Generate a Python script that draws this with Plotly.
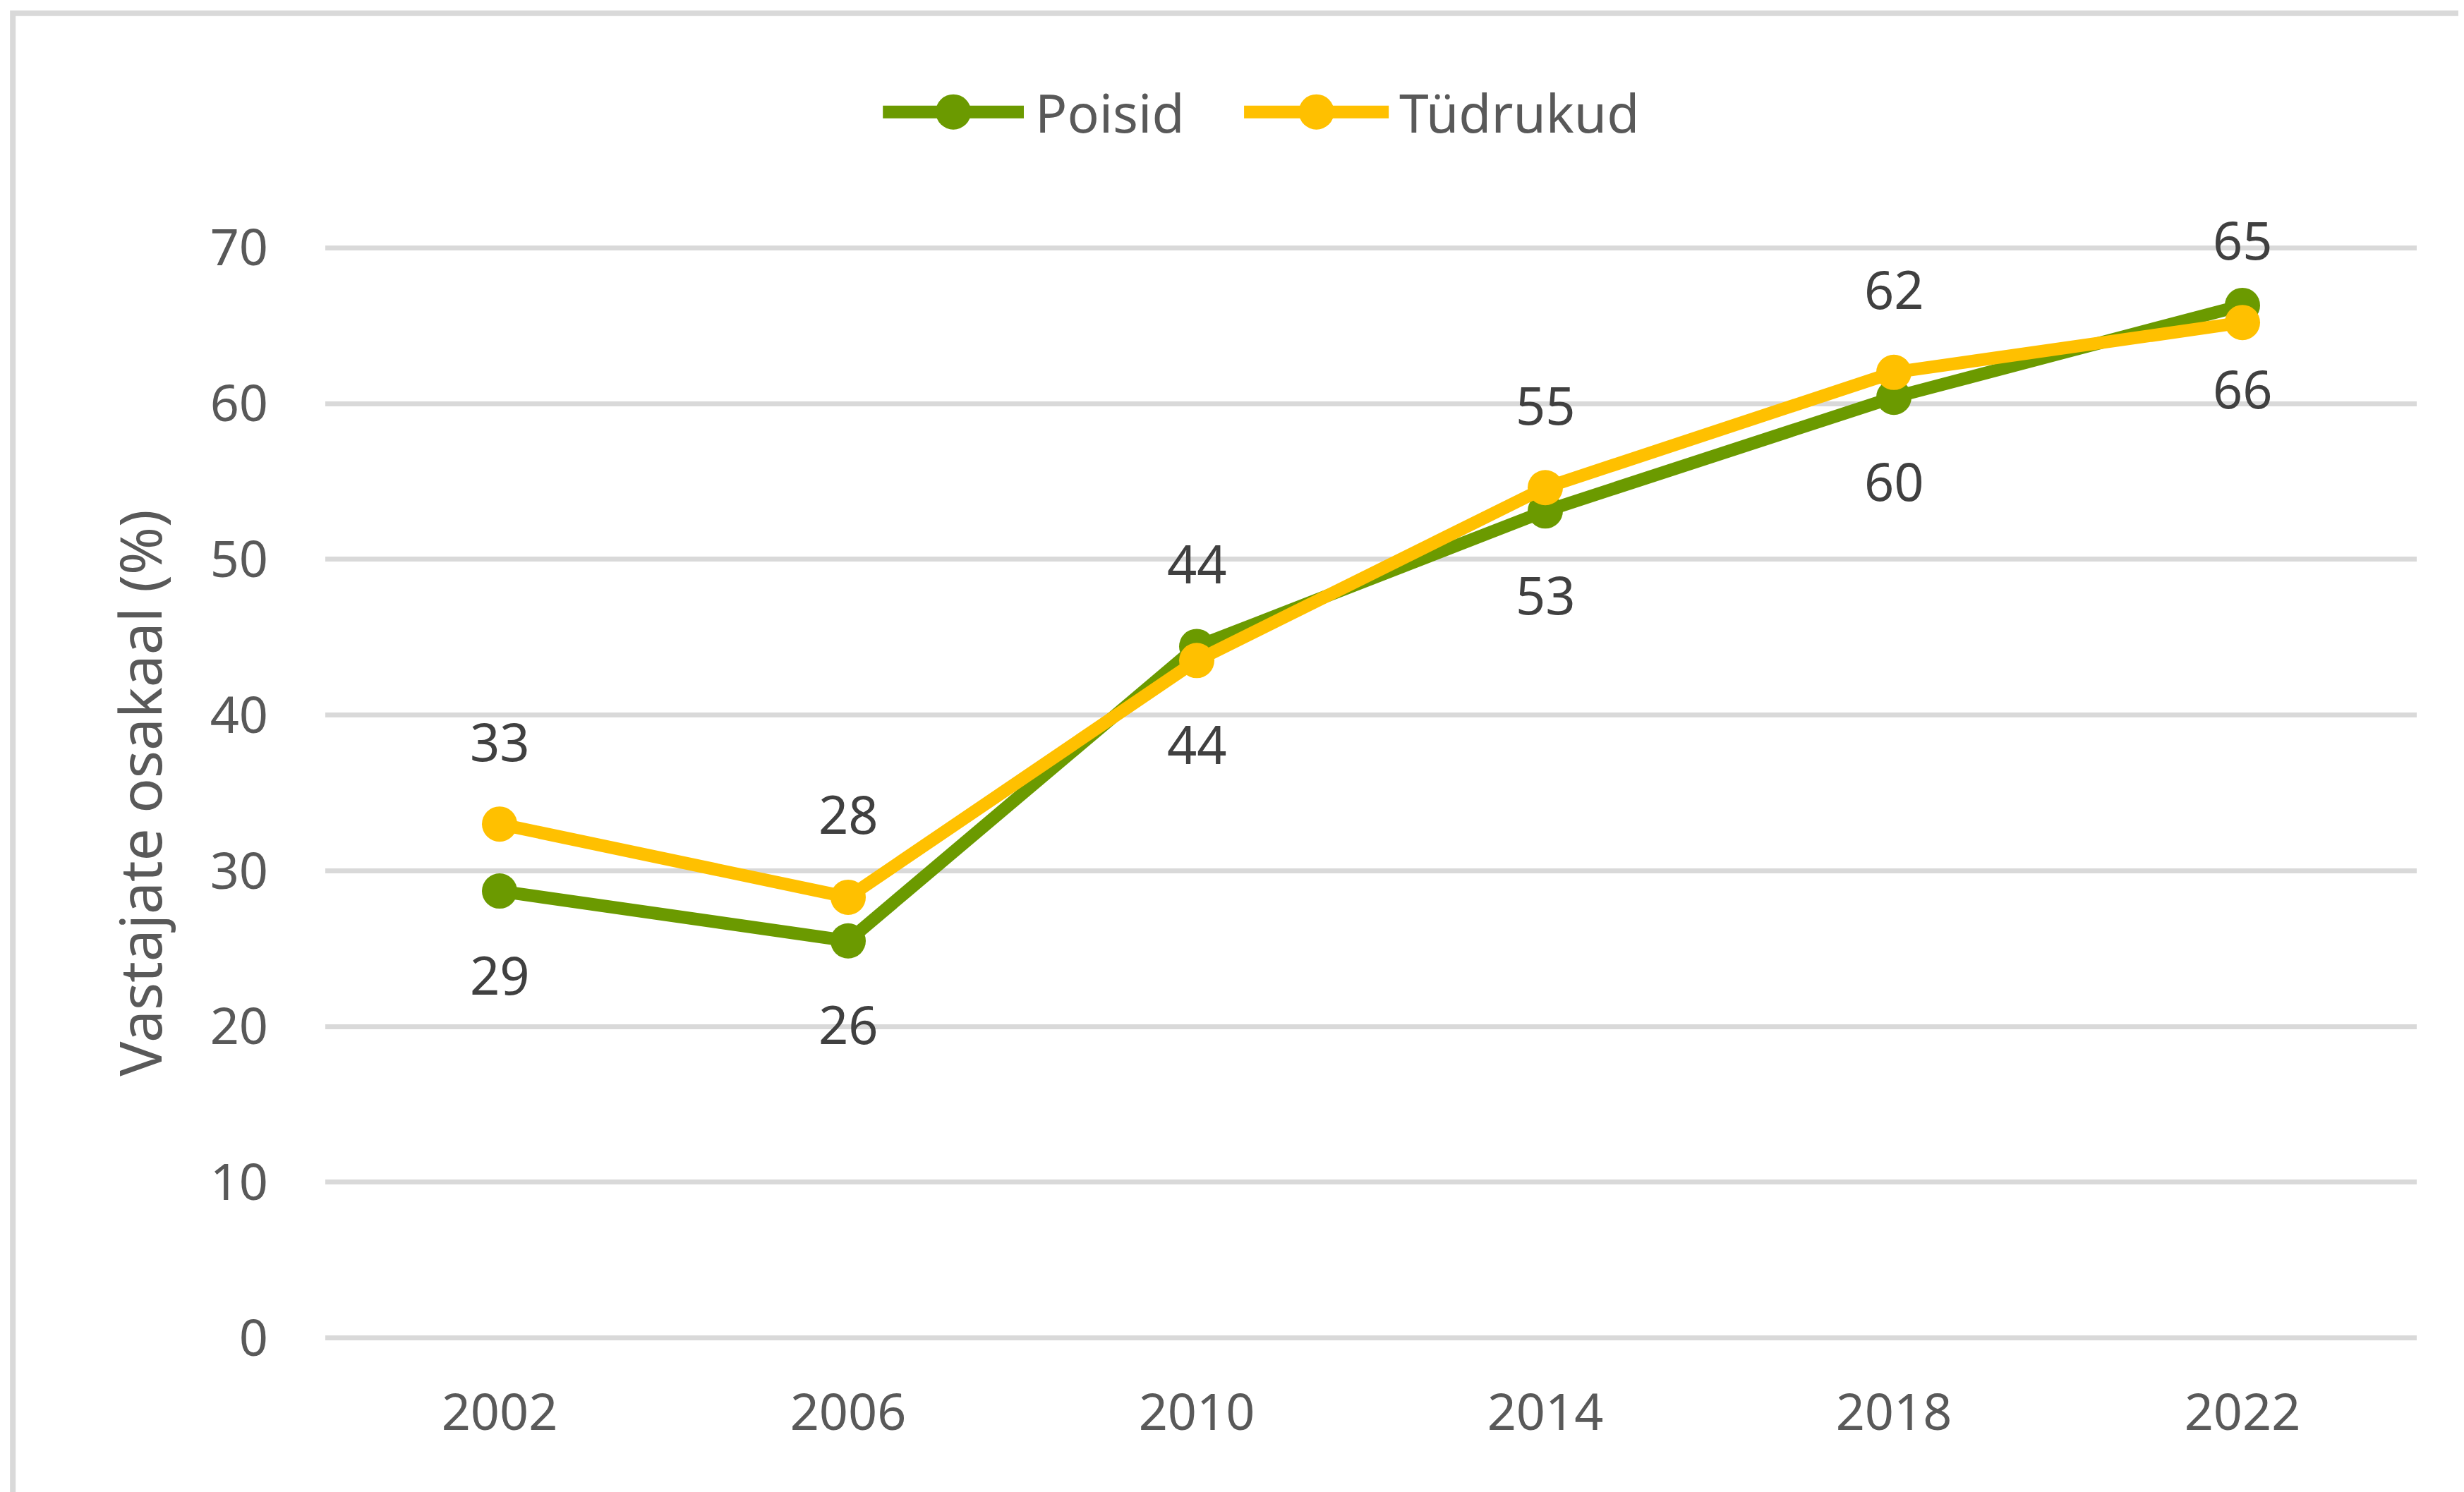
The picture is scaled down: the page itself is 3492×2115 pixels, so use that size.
import plotly.graph_objects as go

years = ["2002", "2006", "2010", "2014", "2018", "2022"]
poisid = [28.7, 25.5, 44.4, 53.1, 60.4, 66.3]
tudrukud = [33.0, 28.3, 43.5, 54.6, 62.0, 65.2]
poisid_labels = ["29", "26", "44", "53", "60", "66"]
tudrukud_labels = ["33", "28", "44", "55", "62", "65"]
poisid_label_side = ["below", "below", "above", "below", "below", "below"]
tudrukud_label_side = ["above", "above", "below", "above", "above", "above"]
y_ticks = [0, 10, 20, 30, 40, 50, 60, 70]
series_names = ["Poisid", "Tüdrukud"]

GREEN = "#6B9A00"
YELLOW = "#FFC000"
FONT = "Noto Sans"
LINE_W = 18
MARKER = 50

fig = go.Figure()
fig.add_trace(go.Scatter(
    x=years, y=poisid, name=series_names[0], mode="lines+markers",
    line=dict(color=GREEN, width=LINE_W), marker=dict(color=GREEN, size=MARKER),
))
fig.add_trace(go.Scatter(
    x=years, y=tudrukud, name=series_names[1], mode="lines+markers",
    line=dict(color=YELLOW, width=LINE_W), marker=dict(color=YELLOW, size=MARKER),
))

annotations = []
for vals, labs, sides in [(poisid, poisid_labels, poisid_label_side),
                          (tudrukud, tudrukud_labels, tudrukud_label_side)]:
    for i, (yv, lab, side) in enumerate(zip(vals, labs, sides)):
        annotations.append(dict(
            x=i, y=yv, xref="x", yref="y", text=lab, showarrow=False,
            yshift=118 if side == "above" else -118,
            font=dict(family=FONT, size=74, color="#404040"),
        ))

# custom legend (Excel style: long line key with a big marker)
legend_y = 1.1228
legend_items = [
    (series_names[0], GREEN, 0.2666, 0.3340, 0.3388),
    (series_names[1], YELLOW, 0.4393, 0.5085, 0.5129),
]
shapes = [dict(type="rect", xref="paper", yref="paper",
               x0=-0.1494, x1=1.2, y0=-0.5, y1=1.2131,
               line=dict(color="#D9D9D9", width=8), layer="below")]
for name, col, lx0, lx1, tx in legend_items:
    shapes.append(dict(type="line", xref="paper", yref="paper",
                       x0=lx0, x1=lx1, y0=legend_y, y1=legend_y,
                       line=dict(color=col, width=LINE_W)))
    cx = (lx0 + lx1) / 2
    shapes.append(dict(type="circle", xref="paper", yref="paper",
                       xsizemode="pixel", ysizemode="pixel",
                       xanchor=cx, yanchor=legend_y,
                       x0=-MARKER / 2, x1=MARKER / 2, y0=-MARKER / 2, y1=MARKER / 2,
                       fillcolor=col, line=dict(width=0)))
    annotations.append(dict(x=tx, y=legend_y, xref="paper", yref="paper",
                            xanchor="left", yanchor="middle", text=name,
                            showarrow=False,
                            font=dict(family=FONT, size=75, color="#595959")))

fig.update_layout(
    width=3492, height=2115,
    margin=dict(l=453, r=75, t=341, b=224),
    paper_bgcolor="white", plot_bgcolor="white",
    font=dict(family=FONT, size=72, color="#595959"),
    showlegend=False,
    annotations=annotations,
    shapes=shapes,
)
fig.update_xaxes(
    type="category", range=[-0.5, 5.5], showgrid=False, zeroline=False,
    showline=False, ticks="", ticklabelstandoff=55,
    tickfont=dict(family=FONT, size=72, color="#595959"),
)
fig.update_yaxes(
    range=[-0.1, 70.1], tickvals=y_ticks, showgrid=True, gridcolor="#D9D9D9",
    gridwidth=7, zeroline=False, showline=False, ticks="",
    ticklabelstandoff=80,
    tickfont=dict(family=FONT, size=72, color="#595959"),
    title=dict(text="Vastajate osakaal (%)", standoff=40,
               font=dict(family=FONT, size=82, color="#595959")),
)

fig.write_html("out.html")
